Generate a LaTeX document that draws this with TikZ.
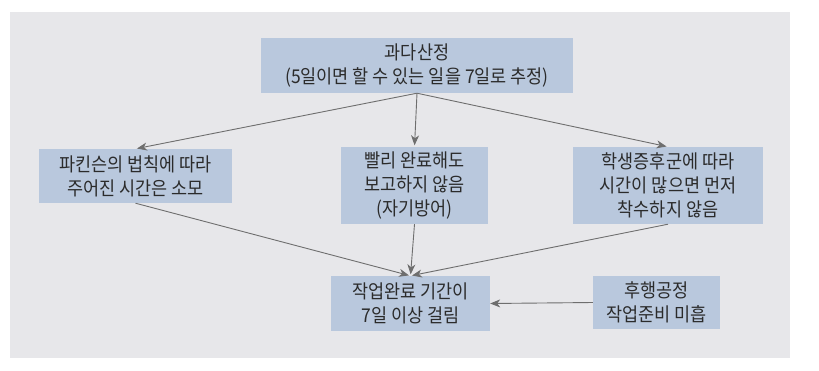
\documentclass[tikz,border=0pt]{standalone}
\usepackage{fontspec}
\usepackage{xcolor}
\usetikzlibrary{arrows.meta}
\newfontfamily\kr{Noto Sans CJK KR}[FakeStretch=0.92]
\definecolor{panelgray}{HTML}{E7E7EA}
\definecolor{boxblue}{HTML}{B9C8DD}
\definecolor{textgray}{HTML}{2B2B2B}
\definecolor{linegray}{HTML}{6E6E6E}

\begin{document}
\begin{tikzpicture}[x=1pt, y=-1pt,
    box/.style={fill=boxblue, text=textgray, inner sep=0pt, align=center,
        font=\kr\fontsize{19}{24}\selectfont},
    arr/.style={-{Stealth[length=10pt, width=8pt, inset=3pt]}, linegray, line width=0.9pt, shorten >=1.5pt}]

\useasboundingbox (0,0) rectangle (819,370);
\fill[panelgray] (10,12) rectangle (790,358);

% ── TOP ─────────────────────────────────────────────────
\node[box, minimum width=312, minimum height=55] (over) at (417,65.5)
    {과다산정\\(5일이면 할 수 있는 일을 7일로 추정)};

% ── MIDDLE ROW ──────────────────────────────────────────
\node[box, minimum width=193, minimum height=54] (parkinson) at (135.5,176)
    {파킨슨의 법칙에 따라\\주어진 시간은 소모};
\node[box, minimum width=147, minimum height=77] (selfdef) at (414.5,185.5)
    {빨리 완료해도\\보고하지 않음\\(자기방어)};
\node[box, minimum width=190, minimum height=77] (student) at (668,185.5)
    {학생증후군에 따라\\시간이 많으면 먼저\\착수하지 않음};

% ── BOTTOM ROW ──────────────────────────────────────────
\node[box, minimum width=159, minimum height=55] (delay) at (410.5,303.5)
    {작업완료 기간이\\7일 이상 걸림};
\node[box, minimum width=127, minimum height=53] (prep) at (656.5,302.5)
    {후행공정\\작업준비 미흡};

% Arrows
\draw[arr] (over.south) -- (parkinson.north);
\draw[arr] (over.south) -- (selfdef.north);
\draw[arr] (over.south) -- (student.north);
\draw[arr] (parkinson.south) -- (delay.north);
\draw[arr] (selfdef.south) -- (delay.north);
\draw[arr] (student.south) -- (delay.north);
\draw[arr, shorten >=0pt] (prep.west) -- (delay.east);

\end{tikzpicture}
\end{document}
